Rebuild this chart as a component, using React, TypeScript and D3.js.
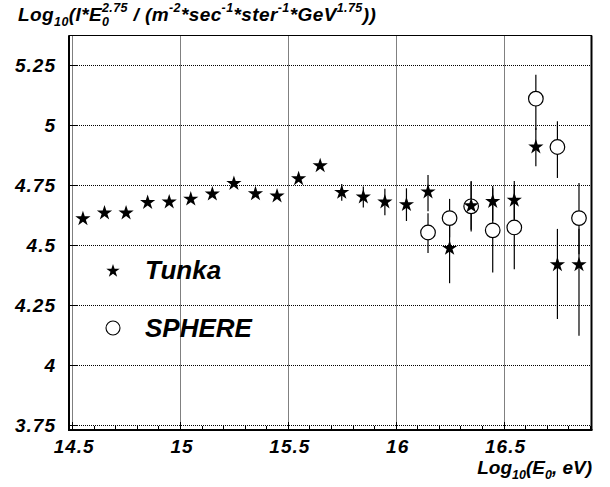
import React from "react";
import * as d3 from "d3";

// Tunka (stars)
const tunkaEnergy = [14.55, 14.65, 14.75, 14.85, 14.95, 15.05, 15.15, 15.25, 15.35, 15.45, 15.55, 15.65,
  15.75, 15.85, 15.95, 16.05, 16.15, 16.25, 16.35, 16.45, 16.55, 16.65, 16.75, 16.85];
const tunkaFlux = [4.608, 4.632, 4.632, 4.676, 4.678, 4.69, 4.711, 4.755, 4.712, 4.703, 4.775, 4.829,
  4.718, 4.699, 4.678, 4.667, 4.72, 4.485, 4.662, 4.68, 4.685, 4.907, 4.417, 4.417];
const tunkaErrUp = [0, 0, 0, 0, 0, 0, 0, 0, 0, 0, 0, 0,
  0.035, 0.044, 0.055, 0.068, 0.07, 0.145, 0.1, 0.065, 0.08, 0.08, 0.149, 0.15];
const tunkaErrDown = [0, 0, 0, 0, 0, 0, 0, 0, 0, 0, 0, 0,
  0.035, 0.044, 0.055, 0.068, 0.08, 0.145, 0.1, 0.08, 0.08, 0.08, 0.226, 0.296];

// SPHERE (open circles)
const sphereEnergy = [16.15, 16.25, 16.35, 16.45, 16.55, 16.65, 16.75, 16.85];
const sphereFlux = [4.551, 4.611, 4.66, 4.56, 4.572, 5.108, 4.907, 4.611];
const sphereErrUp = [0.08, 0.08, 0.105, 0.175, 0.174, 0.1, 0.107, 0.146];
const sphereErrDown = [0.085, 0.08, 0.105, 0.175, 0.174, 0.13, 0.129, 0.15];

const xTicks = [14.5, 15, 15.5, 16, 16.5];
const xMinorTicks = [14.6, 14.7, 14.8, 14.9, 15.1, 15.2, 15.3, 15.4, 15.6, 15.7, 15.8, 15.9,
  16.1, 16.2, 16.3, 16.4, 16.6, 16.7, 16.8, 16.9];
const yTicks = [3.75, 4, 4.25, 4.5, 4.75, 5, 5.25];

const W = 610;
const H = 487;
const frame = { left: 69, right: 591.5, top: 35.5, bottom: 430 };
const font = "'Liberation Sans', Arial, Helvetica, sans-serif";

const App = () => {
  const x = d3.scaleLinear().domain([14.4854, 16.908]).range([frame.left, frame.right]);
  const y = d3.scaleLinear().domain([3.729, 5.371]).range([frame.bottom, frame.top]);

  const star = d3.symbol().type(d3.symbolStar).size(72)();
  const starSmall = d3.symbol().type(d3.symbolStar).size(56)();

  const tunka = tunkaEnergy.map((e, i) => ({
    e, v: tunkaFlux[i], up: tunkaErrUp[i], down: tunkaErrDown[i],
  }));
  const sphere = sphereEnergy.map((e, i) => ({
    e, v: sphereFlux[i], up: sphereErrUp[i], down: sphereErrDown[i],
  }));

  const textStyle = {
    fontFamily: font, fontWeight: "bold", fontStyle: "italic", whiteSpace: "pre",
  } as React.CSSProperties;

  return (
    <svg width={W} height={H} style={{ position: "absolute", left: 0, top: 0, background: "#fff" }}>
      <rect width={W} height={H} fill="#fff" />

      {/* grid */}
      {xTicks.map((t) => (
        <line key={"gx" + t} x1={Math.round(x(t)) + 0.5} x2={Math.round(x(t)) + 0.5}
          y1={frame.top} y2={frame.bottom} stroke="#000" strokeDasharray="1 1" />
      ))}
      {yTicks.map((t) => (
        <line key={"gy" + t} y1={Math.round(y(t)) + 0.5} y2={Math.round(y(t)) + 0.5}
          x1={frame.left} x2={frame.right} stroke="#000" strokeDasharray="1 1" />
      ))}

      {/* ticks */}
      {xTicks.map((t) => (
        <line key={"tx" + t} x1={Math.round(x(t)) + 0.5} x2={Math.round(x(t)) + 0.5}
          y1={frame.bottom} y2={frame.bottom - 8} stroke="#000" />
      ))}
      {xMinorTicks.map((t) => (
        <line key={"mx" + t} x1={Math.round(x(t)) + 0.5} x2={Math.round(x(t)) + 0.5}
          y1={frame.bottom} y2={frame.bottom - 4} stroke="#000" />
      ))}
      {yTicks.map((t) => (
        <line key={"ty" + t} y1={Math.round(y(t)) + 0.5} y2={Math.round(y(t)) + 0.5}
          x1={frame.left} x2={frame.left + 8} stroke="#000" />
      ))}

      {/* frame */}
      <rect x={frame.left} y={frame.top} width={frame.right - frame.left}
        height={frame.bottom - frame.top} fill="none" stroke="#000" strokeWidth={1} />
      <line x1={frame.left} x2={frame.left} y1={frame.top} y2={frame.bottom + 1} stroke="#000" strokeWidth={2} />
      <line x1={frame.left} x2={frame.right + 1} y1={frame.bottom} y2={frame.bottom} stroke="#000" strokeWidth={2} />
      <line x1={frame.right} x2={frame.right} y1={frame.top} y2={frame.bottom} stroke="#000" strokeWidth={2} />

      {/* error bars */}
      {tunka.filter((d) => d.up > 0).map((d) => (
        <line key={"et" + d.e} x1={x(d.e)} x2={x(d.e)} y1={y(d.v + d.up)} y2={y(d.v - d.down)}
          stroke="#000" strokeWidth={1.2} />
      ))}
      {sphere.map((d) => (
        <line key={"es" + d.e} x1={x(d.e)} x2={x(d.e)} y1={y(d.v + d.up)} y2={y(d.v - d.down)}
          stroke="#000" strokeWidth={1.2} />
      ))}

      {/* markers */}
      {sphere.map((d) => (
        <circle key={"cs" + d.e} cx={x(d.e)} cy={y(d.v)} r={7.3} fill="#fff" stroke="#000" strokeWidth={1.2} />
      ))}
      {tunka.map((d) => (
        <path key={"st" + d.e} d={star} transform={`translate(${x(d.e)},${y(d.v)})`} fill="#000" />
      ))}

      {/* tick labels */}
      {xTicks.map((t) => (
        <text key={"lx" + t} x={x(t) + 2} y={453} textAnchor="middle" fontSize={19}
          letterSpacing={1} style={textStyle}>{String(t)}</text>
      ))}
      {yTicks.map((t) => (
        <text key={"ly" + t} x={56} y={y(t) + 7.5} textAnchor="end" fontSize={19}
          letterSpacing={1} style={textStyle}>{String(t)}</text>
      ))}

      {/* legend */}
      <path d={starSmall} transform="translate(113,271)" fill="#000" />
      <text x={145} y={278.5} fontSize={26} style={textStyle}>Tunka</text>
      <circle cx={113} cy={328} r={7} fill="#fff" stroke="#000" strokeWidth={1.1} />
      <text x={145} y={337} fontSize={26} style={textStyle}>SPHERE</text>

      {/* y title */}
      <text x={18} y={20.5} fontSize={19} letterSpacing={0.4} style={textStyle}>
        <tspan>Log</tspan>
        <tspan dy={5} fontSize={12.5}>10</tspan>
        <tspan dy={-5}>(I*E</tspan>
        <tspan dy={5} fontSize={12.5}>0</tspan>
        <tspan dx={-7.4} dy={-14} fontSize={12.5}>2.75</tspan>
        <tspan dy={9}> / (m</tspan>
        <tspan dy={-9} fontSize={12.5}>-2</tspan>
        <tspan dy={9}>*sec</tspan>
        <tspan dy={-9} fontSize={12.5}>-1</tspan>
        <tspan dy={9}>*ster</tspan>
        <tspan dy={-9} fontSize={12.5}>-1</tspan>
        <tspan dy={9}>*GeV</tspan>
        <tspan dy={-9} fontSize={12.5}>1.75</tspan>
        <tspan dy={9}>))</tspan>
      </text>

      {/* x title */}
      <text x={592} y={474} textAnchor="end" fontSize={19} style={textStyle}>
        <tspan>Log</tspan>
        <tspan dy={5} fontSize={12.5}>10</tspan>
        <tspan dy={-5}>(E</tspan>
        <tspan dy={5} fontSize={12.5}>0</tspan>
        <tspan dy={-5}>, eV)</tspan>
      </text>
    </svg>
  );
};

export default App;
